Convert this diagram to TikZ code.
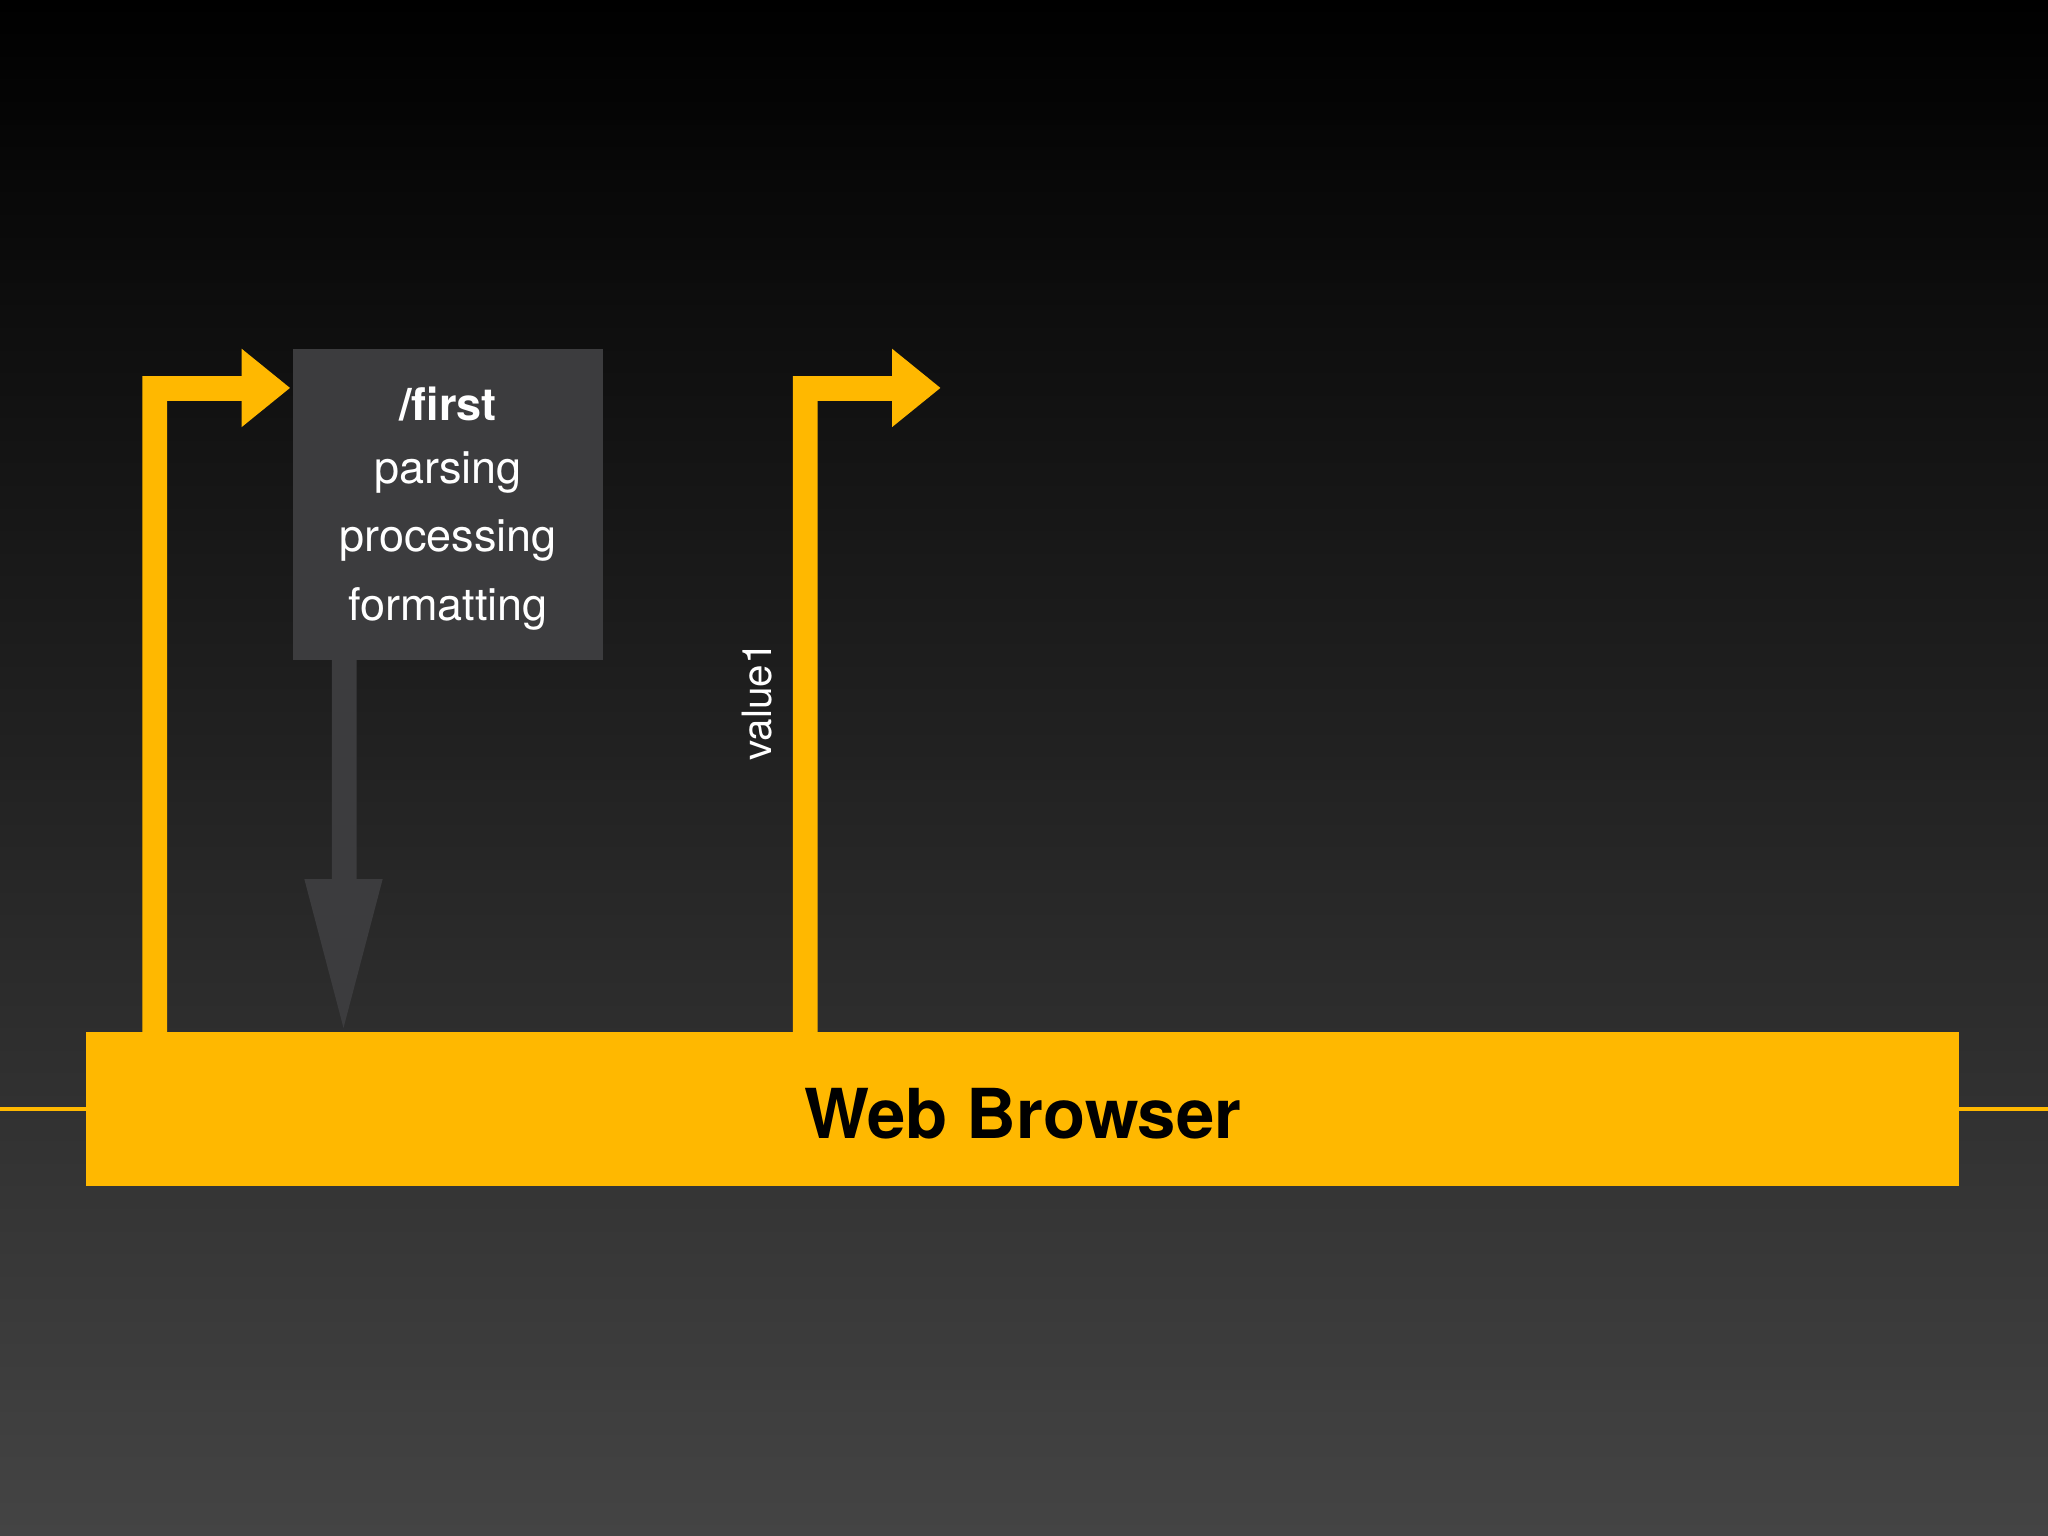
\documentclass[tikz,border=0pt]{standalone}
\usepackage{fontspec}
\setmainfont{TeX Gyre Heros}
\definecolor{amber}{HTML}{FFB800}
\definecolor{boxgray}{HTML}{3C3C3E}
\definecolor{bottomgray}{HTML}{444444}
\begin{document}
\begin{tikzpicture}[x=0.01cm,y=-0.01cm,
  yarrow/.style={fill=amber,draw=none},
  txt/.style={text=white,font=\fontsize{9.8pt}{11pt}\selectfont}]
\shade[top color=black,bottom color=bottomgray,shading angle=0] (0,0) rectangle (1568,1176);
\useasboundingbox (0,0) rectangle (1568,1176);
% box
\fill[boxgray] (224,267) rectangle (462,505);
\node[txt,font=\fontsize{9.8pt}{11pt}\selectfont\bfseries] (t1) at (343,309) {/first};
\node[txt] (t2) at (343,362) {parsing};
\node[txt] (t3) at (343,414) {processing};
\node[txt] (t4) at (343,466) {formatting};
% grey arrow
\fill[boxgray] (254,505) -- (273,505) -- (273,673) -- (293,673) -- (263,787) -- (233,673) -- (254,673) -- cycle;
% web browser bar
\node[fill=amber,minimum width=1434\pgflinewidth,inner sep=0] (bar) at (783,849) {};
\fill[amber] (66,790) rectangle (1500,908);
\node[font=\fontsize{15pt}{17pt}\selectfont\bfseries,text=black] (wb) at (783,853) {Web Browser};
% left L arrow
\fill[yarrow] (109,790) -- (109,288) -- (185,288) -- (185,267) -- (222,297) -- (185,327) -- (185,307) -- (128,307) -- (128,790) -- cycle;
% right L arrow
\fill[yarrow] (607,790) -- (607,288) -- (683,288) -- (683,267) -- (720,297) -- (683,327) -- (683,307) -- (626,307) -- (626,790) -- cycle;
\node[txt,rotate=90,font=\fontsize{8.8pt}{10pt}\selectfont] (v) at (580,537) {value1};
\end{tikzpicture}
\end{document}
